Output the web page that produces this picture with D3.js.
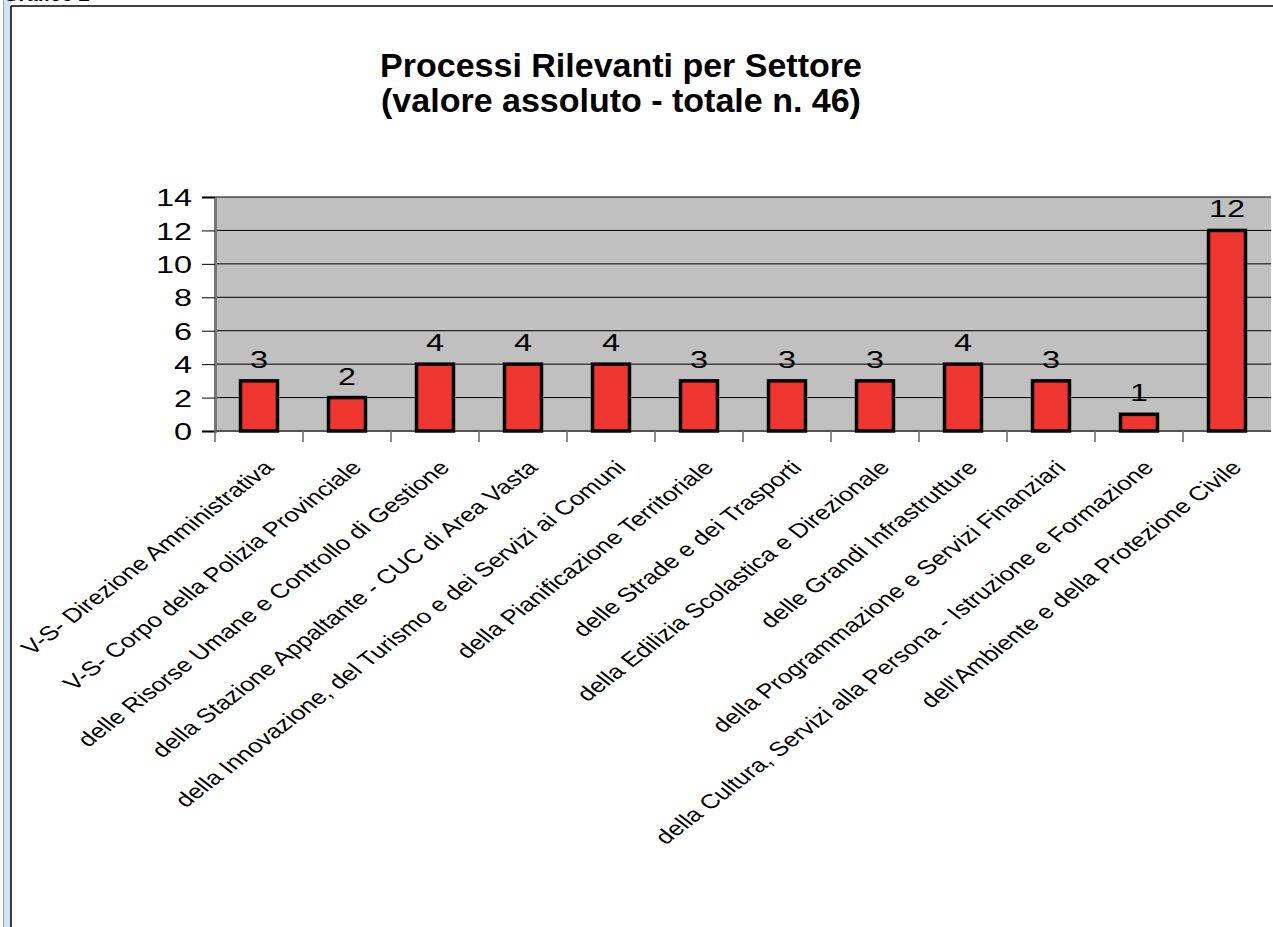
<!DOCTYPE html>
<html>
<head>
<meta charset="utf-8">
<script src="https://cdn.jsdelivr.net/npm/d3@7"></script>
<style>
  body { margin: 0; background: #fff; }
  text { font-family: "Liberation Sans", Arial, sans-serif; }
</style>
</head>
<body>
<div id="chart"></div>
<script>
// chart data
var settori = [
    "V-S- Direzione Amministrativa",
    "V-S- Corpo della Polizia Provinciale",
    "delle Risorse Umane e Controllo di Gestione",
    "della Stazione Appaltante - CUC di Area Vasta",
    "della Innovazione, del Turismo e dei Servizi ai Comuni",
    "della Pianificazione Territoriale",
    "delle Strade e dei Trasporti",
    "della Edilizia Scolastica e Direzionale",
    "delle Grandi Infrastrutture",
    "della Programmazione e Servizi Finanziari",
    "della Cultura, Servizi alla Persona - Istruzione e Formazione",
    "dell'Ambiente e della Protezione Civile"
];
var processi = [3, 2, 4, 4, 4, 3, 3, 3, 4, 3, 1, 12];
var yTicks = [0, 2, 4, 6, 8, 10, 12, 14];
var titolo = ["Processi Rilevanti per Settore", "(valore assoluto - totale n. 46)"];

var svgWidth = 1273;
var svgHeight = 927;

// plot area (runs off the right edge like the original)
var plot = { left: 215, top: 197, bottom: 431, right: 1271 };
var stretch = 1.35; // axis text in the source looks stretched sideways

var svg = d3.select("#chart")
    .append("svg")
    .attr("width", svgWidth)
    .attr("height", svgHeight);

// page frame on the left and top
svg.append("rect").attr("x", 3).attr("y", 0).attr("width", 8).attr("height", svgHeight)
    .attr("fill", "#cfe3f3");
svg.append("line").attr("x1", 3.5).attr("x2", 3.5).attr("y1", 0).attr("y2", svgHeight)
    .attr("stroke", "#a0a0a0").attr("stroke-width", 1);
svg.append("line").attr("x1", 11).attr("x2", 11).attr("y1", 6).attr("y2", svgHeight)
    .attr("stroke", "#000").attr("stroke-width", 1.5);
svg.append("line").attr("x1", 11).attr("x2", svgWidth).attr("y1", 6).attr("y2", 6)
    .attr("stroke", "#000").attr("stroke-width", 1.5);
// caption above the frame, cropped like in the original
svg.append("text").attr("x", 4).attr("y", 1)
    .style("font-size", "20px").style("font-style", "italic").style("font-weight", "bold")
    .text("Grafico 2");

// title
svg.append("g").selectAll("text")
    .data(titolo)
    .enter()
    .append("text")
    .attr("x", 621)
    .attr("y", (d, i) => 77 + i * 35)
    .attr("text-anchor", "middle")
    .style("font-size", "34px")
    .style("font-weight", "bold")
    .text(d => d);

var x = d3.scaleBand()
    .domain(settori)
    .range([plot.left, plot.right])
    .padding(0);

var y = d3.scaleLinear()
    .domain([0, 14])
    .range([plot.bottom, plot.top]);

var barWidth = x.bandwidth() * 0.42;

// grey background
svg.append("rect")
    .attr("x", plot.left).attr("y", plot.top)
    .attr("width", plot.right - plot.left).attr("height", plot.bottom - plot.top)
    .attr("fill", "#c0c0c0");

// gridlines
svg.append("g")
    .selectAll("line")
    .data(yTicks)
    .enter()
    .append("line")
    .attr("x1", plot.left).attr("x2", plot.right)
    .attr("y1", d => y(d)).attr("y2", d => y(d))
    .attr("stroke", "#000").attr("stroke-width", 1);

// y axis
var yAxis = svg.append("g")
    .attr("transform", `translate(${plot.left},0)`)
    .call(d3.axisLeft(y).tickValues(yTicks).tickSize(13).tickPadding(10).tickFormat(d3.format("d")));
yAxis.select(".domain").attr("stroke", "#777").attr("stroke-width", 3);
yAxis.selectAll(".tick line").attr("stroke", "#000");
yAxis.selectAll(".tick text")
    .attr("fill", "#000")
    .style("font-size", "24px")
    .attr("x", -23 / stretch)
    .attr("dy", "0.36em")
    .attr("transform", `scale(${stretch},1)`);

// x axis: line and tick marks at the band edges
var xAxis = svg.append("g")
    .attr("transform", `translate(0,${plot.bottom})`);
xAxis.append("line")
    .attr("x1", plot.left).attr("x2", plot.right)
    .attr("stroke", "#555").attr("stroke-width", 2);
xAxis.selectAll(".edge")
    .data(settori)
    .enter()
    .append("line")
    .attr("class", "edge")
    .attr("x1", d => x(d)).attr("x2", d => x(d))
    .attr("y1", 0).attr("y2", 11)
    .attr("stroke", "#666").attr("stroke-width", 1.5);

// category labels, 45 degrees and stretched
xAxis.selectAll(".lbl")
    .data(settori)
    .enter()
    .append("text")
    .attr("class", "lbl")
    .attr("text-anchor", "end")
    .attr("transform", d => `translate(${x(d) + x.bandwidth() / 2 + 16},${38}) scale(1.3,1) rotate(-45)`)
    .style("font-size", "20px")
    .text(d => d);

// bars
svg.append("g")
    .selectAll("rect")
    .data(processi)
    .enter()
    .append("rect")
    .attr("x", (d, i) => x(settori[i]) + (x.bandwidth() - barWidth) / 2)
    .attr("y", d => y(d))
    .attr("width", barWidth)
    .attr("height", d => y(0) - y(d))
    .attr("fill", "#ee3530")
    .attr("stroke", "#000")
    .attr("stroke-width", 3.5);

// value labels
svg.append("g")
    .selectAll("text")
    .data(processi)
    .enter()
    .append("text")
    .attr("text-anchor", "middle")
    .attr("transform", (d, i) => `translate(${x(settori[i]) + x.bandwidth() / 2},${y(d) - 13}) scale(${stretch},1)`)
    .style("font-size", "24px")
    .text(d => d);
</script>
</body>
</html>
